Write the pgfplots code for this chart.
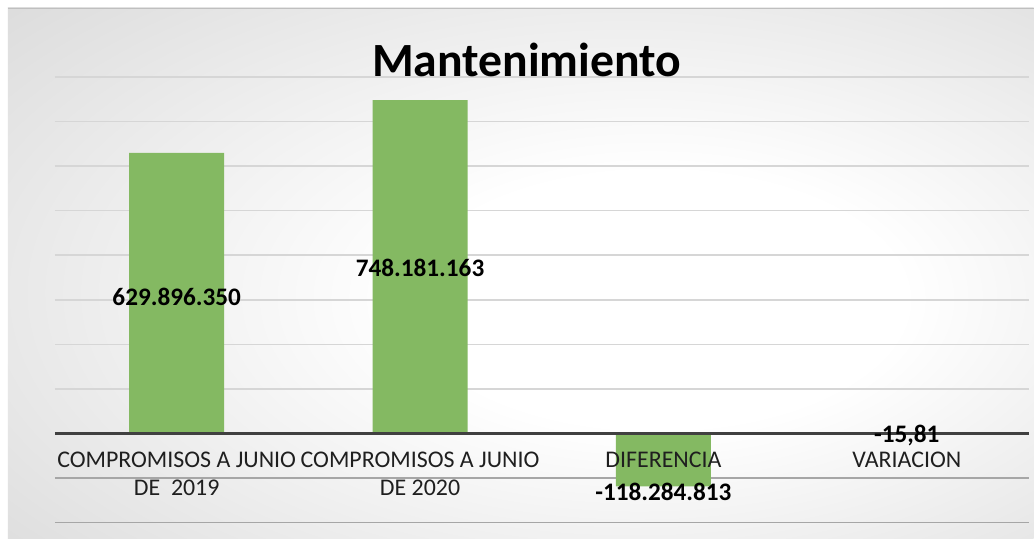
\documentclass[border=0pt]{standalone}
\usepackage{pgfplots}
\pgfplotsset{compat=1.18}
\usepackage{fontspec}
\setmainfont{Carlito}
\definecolor{barg}{HTML}{84B962}
\definecolor{gridg}{HTML}{D6D6D6}
\definecolor{gridd}{HTML}{A6A6A6}
\definecolor{zerog}{HTML}{404040}
\pgfdeclareradialshading{bgshade}{\pgfpoint{8bp}{-3bp}}{color(0bp)=(white); color(12bp)=(white); color(40bp)=(black!14); color(55bp)=(black!22); color(72bp)=(black!26)}
\pgfplotsset{
  myframe/.style={
    at={(55bp,16bp)}, anchor=south west, scale only axis,
    width=974bp, height=446bp,
    xmin=-0.5, xmax=3.5, ymin=-2e8, ymax=8e8,
    scaled y ticks=false,
    xtick style={draw=none}, ytick style={draw=none},
    yticklabels={},
    clip=false,
  },
}
\begin{document}
\begin{tikzpicture}[x=1bp,y=1bp]
\fill[white] (0,0) rectangle (1034,539);
\shade[shading=bgshade] (8,0) rectangle (1034,531);
\draw[black!25, line width=1bp] (8,530.5) -- (1034,530.5);
% grid and bars
\begin{axis}[
  myframe,
  axis line style={draw=none},
  xtick={0,1,2,3}, xticklabels={},
  ytick={0,1e8,2e8,3e8,4e8,5e8,6e8,7e8,8e8},
  extra y ticks={-2e8,-1e8},
  extra y tick style={grid style={gridd, line width=1.5bp}},
  extra y tick labels={},
  ymajorgrids, grid style={gridg, line width=1.6bp},
  ybar, bar width=95bp,
]
\addplot[fill=barg, draw=none] coordinates {(0,629896350) (1,748181163) (2,-118284813) (3,-15.81)};
\end{axis}
% category labels, zero line and value labels on top
\begin{axis}[
  myframe,
  axis x line*=middle,
  x axis line style={line width=3.2bp, color=zerog},
  y axis line style={draw=none},
  ytick=\empty,
  xtick={0,1,2,3},
  xticklabels={{COMPROMISOS A JUNIO\\DE\ \ 2019},{COMPROMISOS A JUNIO\\DE 2020},{DIFERENCIA},{VARIACION}},
  xticklabel style={align=center, font=\fontsize{24}{28}\selectfont, yshift=-15bp, text=black!88},
]
\node[font=\bfseries\fontsize{25.3}{30}\selectfont] at (axis cs:0,3.07e8) {629.896.350};
\node[font=\bfseries\fontsize{25.3}{30}\selectfont] at (axis cs:1,3.72e8) {748.181.163};
\node[font=\bfseries\fontsize{25.3}{30}\selectfont] at (axis cs:2,-1.30e8) {-118.284.813};
\node[font=\bfseries\fontsize{25.3}{30}\selectfont] at (axis cs:3,-0.04e8) {-15,81};
\end{axis}
\node[font=\bfseries\fontsize{47.9}{52}\selectfont] at (527,479) {Mantenimiento};
\end{tikzpicture}
\end{document}
